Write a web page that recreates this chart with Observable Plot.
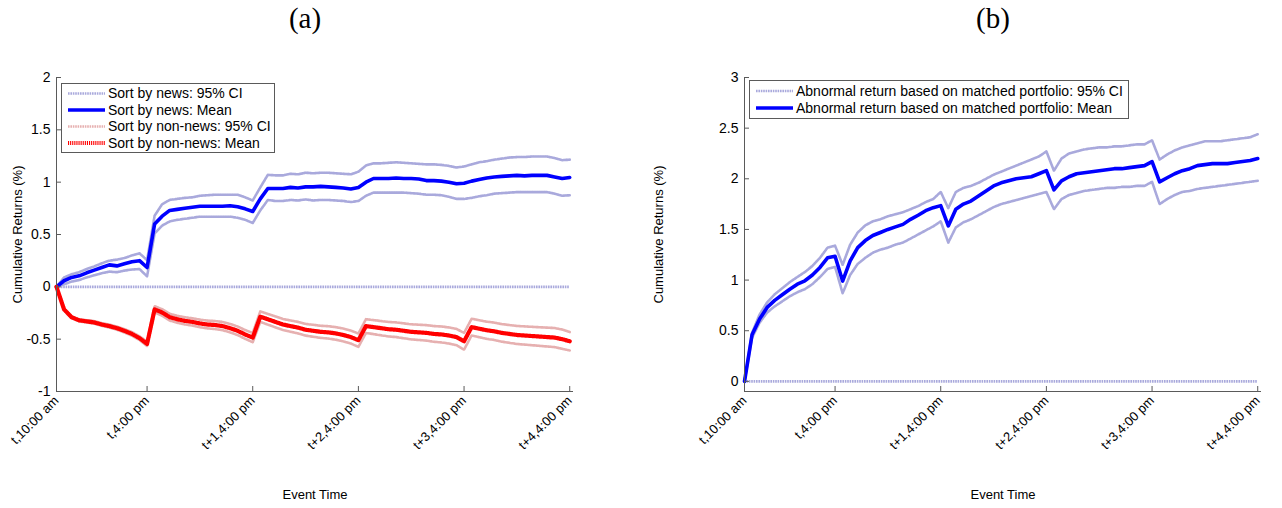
<!DOCTYPE html>
<html><head><meta charset="utf-8">
<script src="https://cdn.jsdelivr.net/npm/d3@7"></script>
<script src="https://cdn.jsdelivr.net/npm/@observablehq/plot@0.6"></script>
<style>
body{margin:0;background:#fff;}
#root{position:relative;width:1282px;height:508px;overflow:hidden;background:#fff;font-family:"Liberation Sans",Arial,sans-serif;}
.title{position:absolute;top:2px;font-family:"Liberation Serif","DejaVu Serif",serif;font-size:29px;transform:translateX(-50%);color:#000;}
.panel{position:absolute;top:38px;}
.legend{position:absolute;}
</style></head><body><div id="root"></div>
<script>
// ---------- data ----------
const xTickIndex = [0, 12, 26, 40, 54, 68];
const xTickLabels = ["t,10:00 am", "t,4:00 pm", "t+1,4:00 pm", "t+2,4:00 pm", "t+3,4:00 pm", "t+4,4:00 pm"];
const yTicksA = [-1, -0.5, 0, 0.5, 1, 1.5, 2];
const yTicksB = [0, 0.5, 1, 1.5, 2, 2.5, 3];

const newsMean = [0,0.058,0.09,0.105,0.134,0.16,0.185,0.21,0.2,0.22,0.24,0.25,0.185,0.6,0.675,0.73,0.74,0.75,0.76,0.77,0.77,0.77,0.77,0.775,0.765,0.745,0.72,0.84,0.94,0.94,0.94,0.95,0.945,0.955,
  0.955,0.96,0.955,0.95,0.945,0.935,0.95,1.0,1.035,1.035,1.035,1.04,1.035,1.035,1.03,1.015,1.015,1.01,1.0,0.985,0.99,1.01,1.025,1.04,1.05,1.055,1.06,1.065,1.06,1.065,1.065,1.065,1.05,1.035,1.045];
const newsUpper = [0,0.09,0.12,0.14,0.17,0.195,0.225,0.25,0.26,0.275,0.3,0.32,0.255,0.68,0.79,0.83,0.84,0.85,0.855,0.87,0.875,0.88,0.88,0.88,0.88,0.855,0.825,0.95,1.07,1.065,1.065,1.08,1.075,1.09,
  1.085,1.09,1.09,1.085,1.08,1.075,1.1,1.16,1.18,1.18,1.185,1.19,1.185,1.18,1.175,1.17,1.17,1.165,1.155,1.14,1.15,1.17,1.19,1.2,1.215,1.225,1.235,1.24,1.24,1.245,1.245,1.245,1.23,1.21,1.215];
const newsLower = [0,0.025,0.05,0.065,0.09,0.11,0.13,0.145,0.14,0.155,0.165,0.17,0.1,0.51,0.585,0.625,0.64,0.65,0.66,0.67,0.67,0.67,0.67,0.67,0.66,0.64,0.61,0.73,0.83,0.82,0.82,0.83,0.825,0.835,
  0.825,0.83,0.83,0.825,0.82,0.81,0.82,0.87,0.9,0.9,0.9,0.9,0.9,0.895,0.89,0.88,0.88,0.875,0.86,0.84,0.84,0.85,0.865,0.875,0.89,0.895,0.9,0.905,0.905,0.905,0.905,0.905,0.89,0.87,0.875];

const nonNewsMean = [0,-0.215,-0.29,-0.32,-0.33,-0.34,-0.36,-0.375,-0.395,-0.42,-0.45,-0.49,-0.545,-0.215,-0.245,-0.29,-0.31,-0.325,-0.335,-0.35,-0.36,-0.365,-0.375,-0.395,-0.42,-0.455,-0.485,-0.285,-0.31,-0.335,-0.36,-0.375,-0.39,-0.41,
  -0.42,-0.43,-0.435,-0.445,-0.46,-0.48,-0.51,-0.375,-0.385,-0.395,-0.405,-0.41,-0.42,-0.43,-0.435,-0.44,-0.45,-0.455,-0.465,-0.48,-0.52,-0.385,-0.4,-0.415,-0.425,-0.44,-0.45,-0.46,-0.465,-0.47,-0.475,-0.48,-0.485,-0.5,-0.52];
const nonNewsUpper = [0,-0.21,-0.282,-0.31,-0.319,-0.328,-0.347,-0.361,-0.38,-0.404,-0.433,-0.472,-0.525,-0.185,-0.214,-0.258,-0.277,-0.291,-0.3,-0.314,-0.323,-0.327,-0.336,-0.355,-0.379,-0.413,-0.441,-0.235,-0.259,-0.283,-0.307,-0.321,-0.335,-0.354,
  -0.363,-0.372,-0.376,-0.385,-0.399,-0.418,-0.446,-0.309,-0.318,-0.327,-0.336,-0.34,-0.349,-0.358,-0.362,-0.366,-0.375,-0.379,-0.388,-0.402,-0.44,-0.305,-0.319,-0.333,-0.342,-0.356,-0.365,-0.374,-0.378,-0.382,-0.386,-0.39,-0.394,-0.408,-0.432];
const nonNewsLower = [0,-0.22,-0.298,-0.33,-0.341,-0.352,-0.373,-0.389,-0.41,-0.436,-0.467,-0.508,-0.565,-0.245,-0.276,-0.322,-0.343,-0.359,-0.37,-0.386,-0.397,-0.403,-0.414,-0.435,-0.461,-0.497,-0.529,-0.335,-0.361,-0.387,-0.413,-0.429,-0.445,-0.466,
  -0.477,-0.488,-0.494,-0.505,-0.521,-0.542,-0.574,-0.441,-0.452,-0.463,-0.474,-0.48,-0.491,-0.502,-0.508,-0.514,-0.525,-0.531,-0.542,-0.558,-0.6,-0.465,-0.481,-0.497,-0.508,-0.524,-0.535,-0.546,-0.552,-0.558,-0.564,-0.57,-0.576,-0.592,-0.608];

const matchedMean = [0,0.46,0.615,0.73,0.8,0.855,0.91,0.96,0.993,1.05,1.125,1.22,1.235,0.99,1.19,1.32,1.39,1.44,1.47,1.5,1.525,1.55,1.6,1.64,1.685,1.715,1.735,1.535,1.7,1.75,1.78,1.83,1.88,1.93,
  1.96,1.98,2.0,2.01,2.02,2.05,2.08,1.89,1.98,2.02,2.05,2.06,2.07,2.08,2.09,2.1,2.1,2.11,2.12,2.13,2.17,1.97,2.01,2.05,2.08,2.1,2.13,2.14,2.15,2.15,2.15,2.16,2.17,2.18,2.2];
const matchedUpper = [0,0.48,0.66,0.78,0.86,0.92,0.98,1.03,1.08,1.14,1.22,1.32,1.34,1.15,1.35,1.47,1.54,1.58,1.6,1.63,1.65,1.67,1.7,1.73,1.77,1.8,1.87,1.71,1.87,1.91,1.93,1.96,2.0,2.04,
  2.07,2.1,2.13,2.16,2.19,2.22,2.27,2.08,2.2,2.25,2.27,2.29,2.3,2.31,2.31,2.32,2.32,2.33,2.34,2.34,2.38,2.19,2.24,2.28,2.31,2.33,2.35,2.37,2.37,2.37,2.38,2.39,2.4,2.41,2.44];
const matchedLower = [0,0.43,0.58,0.68,0.74,0.79,0.84,0.88,0.91,0.96,1.03,1.11,1.13,0.87,1.05,1.16,1.22,1.27,1.3,1.32,1.35,1.37,1.41,1.45,1.49,1.53,1.58,1.37,1.52,1.57,1.6,1.64,1.68,1.72,
  1.75,1.77,1.79,1.81,1.83,1.85,1.87,1.7,1.8,1.84,1.86,1.88,1.89,1.9,1.91,1.91,1.92,1.92,1.93,1.93,1.97,1.75,1.8,1.84,1.87,1.88,1.9,1.91,1.92,1.93,1.94,1.95,1.96,1.97,1.98];

const eventIndex = d3.range(newsMean.length);
[newsUpper,newsLower,nonNewsMean,nonNewsUpper,nonNewsLower,matchedMean,matchedUpper,matchedLower].forEach((a,k)=>{
  if (a.length !== eventIndex.length) throw new Error("length mismatch in series " + k + ": " + a.length);
});

// ---------- styles ----------
const S = {
  blueCI: {stroke: "#a9a9dc", strokeWidth: 2.6, strokeDasharray: "1.6 0.8"},
  blueMean: {stroke: "#0000ff", strokeWidth: 3.6},
  redCI: {stroke: "#e6b0b0", strokeWidth: 2.6, strokeDasharray: "1.6 0.8"},
  redMean: {stroke: "#ff0000", strokeWidth: 4.2, strokeDasharray: "1.1 1"}
};
const rows = vals => vals.map((v, i) => ({x: eventIndex[i], y: v}));
const fmtY = d => String(d);
const labelOf = new Map(xTickIndex.map((d, i) => [d, xTickLabels[i]]));

function panel({marginLeft, marginRight, yDomain, yTicks, series}) {
  const W = 641, H = 470, mt = 39, mb = 117;
  const pw = W - marginLeft - marginRight, ph = H - mt - mb;
  return Plot.plot({
    width: W, height: H, marginLeft, marginRight, marginTop: mt, marginBottom: mb,
    x: {domain: [0, 68.5]},
    y: {domain: yDomain},
    style: {fontFamily: "'Liberation Sans', Arial, sans-serif", background: "white", color: "#000", overflow: "visible"},
    marks: [
      ...series,
      Plot.ruleX([0], {stroke: "#5a5a5a", strokeWidth: 1}),
      Plot.ruleY([yDomain[0]], {stroke: "#5a5a5a", strokeWidth: 1}),
      Plot.ruleX(xTickIndex, {stroke: "#5a5a5a", insetTop: ph - 5}),
      Plot.ruleY(yTicks, {stroke: "#5a5a5a", insetRight: pw - 5}),
      Plot.axisY({ticks: yTicks, tickSize: 0, tickPadding: 6, tickFormat: fmtY, fontSize: 14, label: null}),
      Plot.axisX({ticks: xTickIndex, tickSize: 0, tickPadding: 7, tickRotate: -45, tickFormat: d => labelOf.get(d), fontSize: 13, label: null}),
      Plot.text(["Cumulative Returns (%)"], {frameAnchor: "left", textAnchor: "middle", rotate: -90, dx: -(marginLeft - 17), fontSize: 13}),
      Plot.text(["Event Time"], {frameAnchor: "bottom", lineAnchor: "middle", dy: 103, fontSize: 13})
    ]
  });
}

const root = document.getElementById("root");

const left = panel({
  marginLeft: 56, marginRight: 68, yDomain: [-1, 2], yTicks: yTicksA,
  series: [
    Plot.line(rows(newsUpper), {x: "x", y: "y", ...S.blueCI}),
    Plot.line(rows(newsLower), {x: "x", y: "y", ...S.blueCI}),
    Plot.ruleY([0], {x1: 0, x2: 68, ...S.blueCI}),
    Plot.line(rows(nonNewsUpper), {x: "x", y: "y", ...S.redCI}),
    Plot.line(rows(nonNewsLower), {x: "x", y: "y", ...S.redCI}),
    Plot.line(rows(newsMean), {x: "x", y: "y", ...S.blueMean}),
    Plot.line(rows(nonNewsMean), {x: "x", y: "y", ...S.redMean})
  ]
});
left.classList.add("panel"); left.style.left = "0px";
root.appendChild(left);

const right = panel({
  marginLeft: 103, marginRight: 21, yDomain: [-0.1, 3], yTicks: yTicksB,
  series: [
    Plot.line(rows(matchedUpper), {x: "x", y: "y", ...S.blueCI}),
    Plot.line(rows(matchedLower), {x: "x", y: "y", ...S.blueCI}),
    Plot.ruleY([0], {x1: 0, x2: 68, ...S.blueCI}),
    Plot.line(rows(matchedMean), {x: "x", y: "y", ...S.blueMean})
  ]
});
right.classList.add("panel"); right.style.left = "641px";
root.appendChild(right);

// titles
[["(a)", 305], ["(b)", 993]].forEach(([t, x]) => {
  const d = document.createElement("div");
  d.className = "title"; d.textContent = t; d.style.left = x + "px";
  root.appendChild(d);
});

// legends
function legend(items, {left, top, width, height, rowY}) {
  const svg = d3.create("svg").attr("class", "legend").attr("width", width).attr("height", height)
    .style("left", left + "px").style("top", top + "px");
  svg.append("rect").attr("x", 0.5).attr("y", 0.5).attr("width", width - 1).attr("height", height - 1)
    .attr("fill", "white").attr("stroke", "#5a5a5a");
  items.forEach((it, i) => {
    const y = rowY[i];
    svg.append("line").attr("x1", 7).attr("x2", 44).attr("y1", y).attr("y2", y)
      .attr("stroke", it.style.stroke).attr("stroke-width", it.style.strokeWidth)
      .attr("stroke-dasharray", it.style.strokeDasharray || null);
    svg.append("text").attr("x", 47).attr("y", y).attr("dy", "0.35em")
      .attr("font-family", "'Liberation Sans', Arial, sans-serif").attr("font-size", 14).text(it.label);
  });
  root.appendChild(svg.node());
}
legend([
  {label: "Sort by news: 95% CI", style: S.blueCI},
  {label: "Sort by news: Mean", style: S.blueMean},
  {label: "Sort by non-news: 95% CI", style: S.redCI},
  {label: "Sort by non-news: Mean", style: S.redMean}
], {left: 61, top: 83, width: 214, height: 70, rowY: [10.5, 27, 43.5, 60]});
legend([
  {label: "Abnormal return based on matched portfolio: 95% CI", style: S.blueCI},
  {label: "Abnormal return based on matched portfolio: Mean", style: S.blueMean}
], {left: 749, top: 80, width: 380, height: 39, rowY: [11, 28]});
</script></body></html>
